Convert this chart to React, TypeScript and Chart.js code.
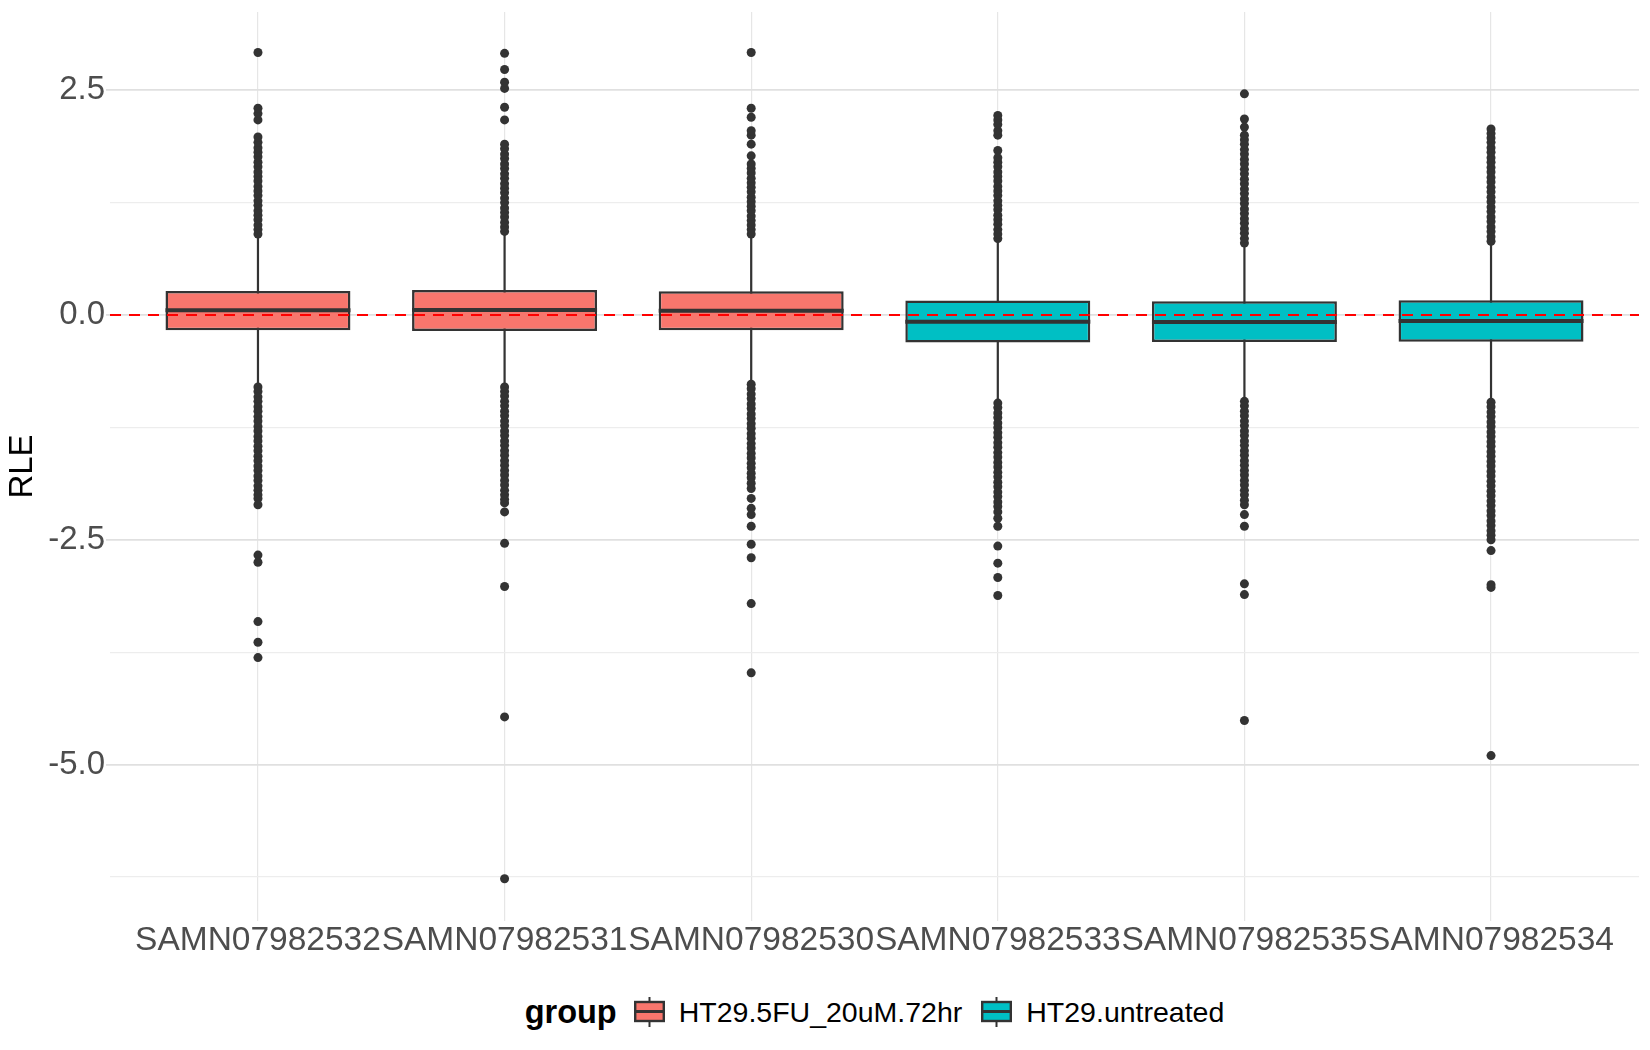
import React, { useEffect, useRef } from "react";
import { Chart, registerables } from "chart.js";

Chart.register(...registerables);

const FONT = "'Liberation Sans', Arial, Helvetica, sans-serif";

// samples (x axis order) and their group
const samples = ["SAMN07982532", "SAMN07982531", "SAMN07982530", "SAMN07982533", "SAMN07982535", "SAMN07982534"];
const sampleGroup = ["HT29.5FU_20uM.72hr", "HT29.5FU_20uM.72hr", "HT29.5FU_20uM.72hr", "HT29.untreated", "HT29.untreated", "HT29.untreated"];
const groupNames = ["HT29.5FU_20uM.72hr", "HT29.untreated"];
const groupColors = ["#F8766D", "#00BFC4"];

// box statistics
const q1 = [-0.171, -0.179, -0.171, -0.305, -0.301, -0.298];
const median = [0.052, 0.056, 0.048, -0.074, -0.078, -0.067];
const q3 = [0.268, 0.279, 0.264, 0.16, 0.153, 0.164];
const whiskerLow = [-0.77, -0.78, -0.75, -0.95, -0.93, -0.94];
const whiskerHigh = [0.86, 0.9, 0.87, 0.82, 0.78, 0.8];

// outliers per sample
const outliers1 = [
  0.9, 0.95, 1.0, 1.06, 1.11, 1.16, 1.22, 1.27, 1.33, 1.38, 1.43, 1.49, 1.54, 1.59, 1.65, 1.7, 1.76, 1.81, 1.86, 1.92, 1.98,
  2.17, 2.24, 2.3, 2.92,
  -0.8, -0.85, -0.91, -0.96, -1.02, -1.07, -1.13, -1.18, -1.24, -1.29, -1.35, -1.4, -1.46, -1.51, -1.57, -1.62, -1.68,
  -1.73, -1.79, -1.84, -1.9, -1.95, -2.0, -2.04, -2.11, -2.67, -2.75, -3.41, -3.64, -3.81,
];
const outliers2 = [
  0.93, 0.98, 1.03, 1.09, 1.14, 1.19, 1.25, 1.3, 1.36, 1.41, 1.46, 1.52, 1.57, 1.63, 1.68, 1.74, 1.79, 1.85, 1.9,
  2.17, 2.31, 2.52, 2.59, 2.73, 2.91,
  -0.8, -0.85, -0.9, -0.96, -1.01, -1.07, -1.12, -1.18, -1.23, -1.29, -1.34, -1.4, -1.45, -1.51, -1.56, -1.62, -1.67,
  -1.73, -1.78, -1.84, -1.89, -1.95, -2.0, -2.05, -2.09, -2.19, -2.54, -3.02, -4.47, -6.27,
];
const outliers3 = [
  0.9, 0.95, 1.0, 1.05, 1.1, 1.16, 1.21, 1.26, 1.31, 1.37, 1.42, 1.47, 1.52, 1.58, 1.63, 1.68,
  1.77, 1.9, 2.0, 2.05, 2.2, 2.3, 2.92,
  -0.77, -0.82, -0.88, -0.93, -0.99, -1.04, -1.1, -1.15, -1.21, -1.26, -1.32, -1.37, -1.43, -1.48, -1.54, -1.59, -1.65,
  -1.7, -1.76, -1.81, -1.87, -1.93, -2.04, -2.15, -2.22, -2.35, -2.55, -2.7, -3.21, -3.98,
];
const outliers4 = [
  0.85, 0.9, 0.95, 1.01, 1.06, 1.11, 1.17, 1.22, 1.27, 1.33, 1.38, 1.43, 1.49, 1.54, 1.59, 1.65, 1.7, 1.75, 1.83,
  2.0, 2.05, 2.12, 2.17, 2.22,
  -0.98, -1.03, -1.09, -1.14, -1.2, -1.25, -1.31, -1.36, -1.42, -1.47, -1.53, -1.58, -1.64, -1.69, -1.75, -1.8, -1.86,
  -1.91, -1.97, -2.02, -2.08, -2.13, -2.19, -2.26, -2.35, -2.57, -2.76, -2.92, -3.12,
];
const outliers5 = [
  0.8, 0.85, 0.91, 0.96, 1.02, 1.07, 1.13, 1.18, 1.24, 1.29, 1.35, 1.4, 1.46, 1.51, 1.57, 1.62, 1.68, 1.73, 1.79, 1.84,
  1.9, 1.95, 2.0, 2.09, 2.18, 2.46,
  -0.96, -1.01, -1.07, -1.12, -1.18, -1.23, -1.29, -1.34, -1.4, -1.45, -1.51, -1.56, -1.62, -1.67, -1.73, -1.78, -1.84,
  -1.89, -1.95, -2.0, -2.06, -2.11, -2.22, -2.35, -2.99, -3.11, -4.51,
];
const outliers6 = [
  0.82, 0.87, 0.93, 0.98, 1.04, 1.09, 1.15, 1.2, 1.26, 1.31, 1.37, 1.42, 1.48, 1.53, 1.59, 1.64, 1.7, 1.75, 1.81, 1.86,
  1.92, 1.97, 2.02, 2.07,
  -0.97, -1.02, -1.08, -1.13, -1.19, -1.24, -1.3, -1.35, -1.41, -1.46, -1.52, -1.57, -1.63, -1.68, -1.74, -1.79, -1.85,
  -1.9, -1.96, -2.01, -2.07, -2.12, -2.18, -2.23, -2.29, -2.34, -2.4, -2.45, -2.5, -2.62, -3.0, -3.03, -4.9,
];
const outliers = [outliers1, outliers2, outliers3, outliers4, outliers5, outliers6];

// y axis
const yTicks = [-6.25, -5, -3.75, -2.5, -1.25, 0, 1.25, 2.5];
const yTickLabels = ["", "-5.0", "", "-2.5", "", "0.0", "", "2.5"];
const yMin = -6.74;
const yMax = 3.37;
const refLine = 0;

const BOX_WIDTH = 0.75;

const BoxKey = ({ fill }: { fill: string }) => (
  <svg width={31} height={30} style={{ display: "block" }}>
    <line x1={15.5} y1={0} x2={15.5} y2={30} stroke="#333333" strokeWidth={2} />
    <rect x={1.2} y={5} width={28.6} height={19} fill={fill} stroke="#333333" strokeWidth={2.4} />
    <line x1={1} y1={14.5} x2={30} y2={14.5} stroke="#333333" strokeWidth={3} />
  </svg>
);

const App = () => {
  const canvasRef = useRef<HTMLCanvasElement>(null);

  useEffect(() => {
    if (!canvasRef.current) return;
    const idx = samples.map((_, i) => i);

    const boxSets = groupNames.map((g, gi) => ({
      type: "bar" as const,
      label: g,
      data: idx.filter((i) => sampleGroup[i] === g).map((i) => ({ x: i + 1, y: [q1[i], q3[i]] })),
      backgroundColor: groupColors[gi],
      borderColor: "#333333",
      borderWidth: 2.5,
      borderSkipped: false,
      grouped: false,
      categoryPercentage: 1,
      barPercentage: BOX_WIDTH,
      order: 3,
    }));

    const chart = new Chart(canvasRef.current, {
      type: "bar",
      data: {
        datasets: [
          {
            type: "line",
            label: "ref",
            data: [
              { x: 0.4, y: refLine },
              { x: samples.length + 0.6, y: refLine },
            ],
            borderColor: "#FF0000",
            borderWidth: 2,
            borderDash: [11, 8],
            pointRadius: 0,
            order: 0,
          },
          {
            type: "line",
            label: "outliers",
            data: idx.flatMap((i) => outliers[i].map((v) => ({ x: i + 1, y: v }))),
            showLine: false,
            pointRadius: 4.5,
            pointBackgroundColor: "#333333",
            pointBorderWidth: 0,
            pointHoverRadius: 4.5,
            order: 1,
          },
          {
            type: "line",
            label: "median",
            data: idx.flatMap((i) => [
              { x: i + 1 - BOX_WIDTH / 2, y: median[i] },
              { x: i + 1 + BOX_WIDTH / 2, y: median[i] },
              { x: i + 1, y: null },
            ]),
            borderColor: "#333333",
            borderWidth: 4,
            borderCapStyle: "butt",
            pointRadius: 0,
            spanGaps: false,
            order: 2,
          },
          ...boxSets,
          {
            type: "line",
            label: "whiskers",
            data: idx.flatMap((i) => [
              { x: i + 1, y: whiskerLow[i] },
              { x: i + 1, y: whiskerHigh[i] },
              { x: i + 1, y: null },
            ]),
            borderColor: "#333333",
            borderWidth: 2.2,
            pointRadius: 0,
            spanGaps: false,
            order: 4,
          },
        ] as any,
      },
      options: {
        animation: false,
        responsive: false,
        layout: { padding: { top: 12, right: 11, left: 0, bottom: 0 } },
        plugins: {
          legend: { display: false },
          tooltip: { enabled: false },
        },
        scales: {
          x: {
            type: "linear",
            min: 0.4,
            max: samples.length + 0.6,
            offset: false,
            afterBuildTicks: (s: any) => {
              s.ticks = idx.map((i) => ({ value: i + 1 }));
            },
            afterFit: (s: any) => {
              s.height = 54;
              s.paddingLeft = 0;
              s.paddingRight = 0;
            },
            ticks: {
              callback: (v: any) => samples[Math.round(v) - 1] ?? "",
              autoSkip: false,
              maxRotation: 0,
              minRotation: 0,
              padding: 0,
              color: "#4D4D4D",
              font: { size: 33.5, family: FONT },
            },
            grid: { offset: false, color: "#E6E6E6", lineWidth: 1.2, drawTicks: false },
            border: { display: false },
          },
          y: {
            min: yMin,
            max: yMax,
            afterBuildTicks: (s: any) => {
              s.ticks = yTicks.map((v) => ({ value: v }));
            },
            afterFit: (s: any) => {
              s.width = 110;
              s.paddingTop = 0;
              s.paddingBottom = 0;
            },
            ticks: {
              callback: (v: any) => yTickLabels[yTicks.indexOf(v)] ?? "",
              autoSkip: false,
              padding: 1,
              color: "#4D4D4D",
              font: { size: 33, family: FONT },
            },
            grid: {
              color: (c: any) => (yTickLabels[yTicks.indexOf(c.tick?.value)] ? "#E0E0E0" : "#EDEDED"),
              lineWidth: (c: any) => (yTickLabels[yTicks.indexOf(c.tick?.value)] ? 1.8 : 1.2),
              tickColor: (c: any) => (yTickLabels[yTicks.indexOf(c.tick?.value)] ? "#E0E0E0" : "rgba(0,0,0,0)"),
              tickLength: 4,
            },
            border: { display: false },
            title: {
              display: true,
              text: "RLE",
              color: "#000000",
              font: { size: 33, family: FONT },
              padding: { top: 3, bottom: 0 },
            },
          },
        },
      } as any,
    });

    return () => {
      chart.destroy();
    };
  }, []);

  return (
    <div
      style={{
        position: "fixed",
        left: 0,
        top: 0,
        width: 1650,
        height: 1050,
        background: "#ffffff",
        fontFamily: FONT,
        color: "#000000",
      }}
    >
      <canvas ref={canvasRef} width={1650} height={975} style={{ display: "block" }} />
      <div
        style={{
          position: "absolute",
          left: 110,
          top: 990,
          width: 1529,
          height: 44,
          display: "flex",
          alignItems: "center",
          justifyContent: "center",
          whiteSpace: "nowrap",
        }}
      >
        <span style={{ fontWeight: "bold", fontSize: 32.5, marginRight: 17 }}>group</span>
        {groupNames.map((g, gi) => (
          <React.Fragment key={g}>
            <BoxKey fill={groupColors[gi]} />
            <span style={{ fontSize: 28.5, marginLeft: 14, marginRight: gi < groupNames.length - 1 ? 19 : 0 }}>{g}</span>
          </React.Fragment>
        ))}
      </div>
    </div>
  );
};

export default App;
